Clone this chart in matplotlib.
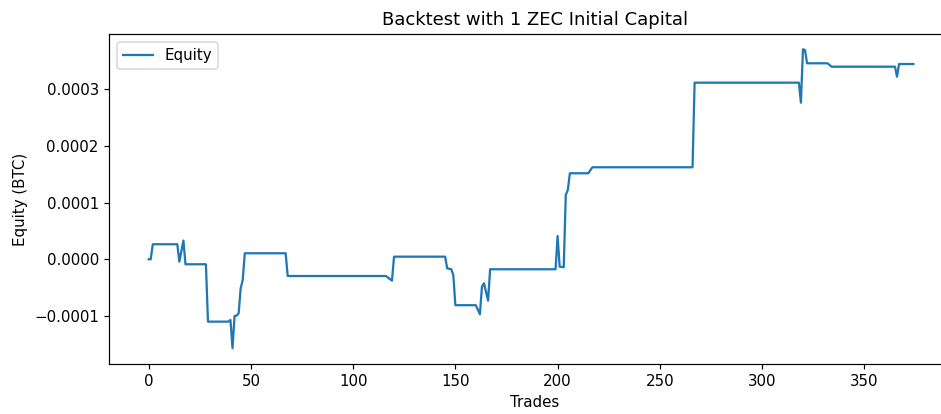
import matplotlib
matplotlib.use("Agg")
import matplotlib.pyplot as plt

plt.rcParams["savefig.bbox"] = "standard"

# Breakpoints of the equity curve (trade index, equity in BTC)
trades = [0, 1, 2, 14, 15, 17, 18, 28, 29, 39, 40, 41, 42, 43, 44, 45, 46, 47,
          67, 68, 116, 119, 120, 145, 146, 148, 149, 150, 160, 162, 163, 164, 166,
          167, 199, 200, 201, 203, 204, 205, 206, 215, 217, 266, 267, 318, 319,
          320, 321, 322, 332, 334, 365, 366, 367, 374]
equity = [0.0, 0.0, 0.0000265, 0.0000265, -0.0000042, 0.000033, -0.0000088,
          -0.0000088, -0.00011, -0.00011, -0.000107, -0.000157, -0.0001,
          -0.0000995, -0.0000952, -0.000051, -0.0000365, 0.0000106,
          0.0000106, -0.0000295, -0.0000295, -0.0000377, 0.0000046, 0.0000046,
          -0.000016, -0.0000176, -0.000028, -0.000081, -0.000081, -0.000097,
          -0.0000483, -0.0000423, -0.000073, -0.0000176, -0.0000176, 0.000041,
          -0.000013, -0.000014, 0.0001134, 0.0001222, 0.0001517, 0.0001517,
          0.0001623, 0.0001623, 0.0003115, 0.0003115, 0.0002762, 0.0003704,
          0.000369, 0.0003457, 0.0003457, 0.0003397, 0.0003397, 0.000322,
          0.0003444, 0.0003444]

title = "Backtest with 1 ZEC Initial Capital"
xlabel = "Trades"
ylabel = "Equity (BTC)"
series_label = "Equity"

dpi = 108
fig = plt.figure(figsize=(942 / dpi, 414 / dpi), dpi=dpi)
# axes extends past the right edge of the figure (reference is cropped there)
ax = fig.add_axes([0.1160, 0.1208, 0.9031, 0.7959])
ax.plot(trades, equity, color="#1f77b4", linewidth=1.5, label=series_label)
ax.set_xlim(-19.27, 396.8)
ax.set_ylim(-0.0001847, 0.0003965)
ax.spines["right"].set_visible(False)
ax.set_title(title)
ax.set_xlabel(xlabel)
ax.set_ylabel(ylabel)
ax.legend(loc="upper left")
fig.savefig("out.png", dpi=dpi, bbox_inches=None)
